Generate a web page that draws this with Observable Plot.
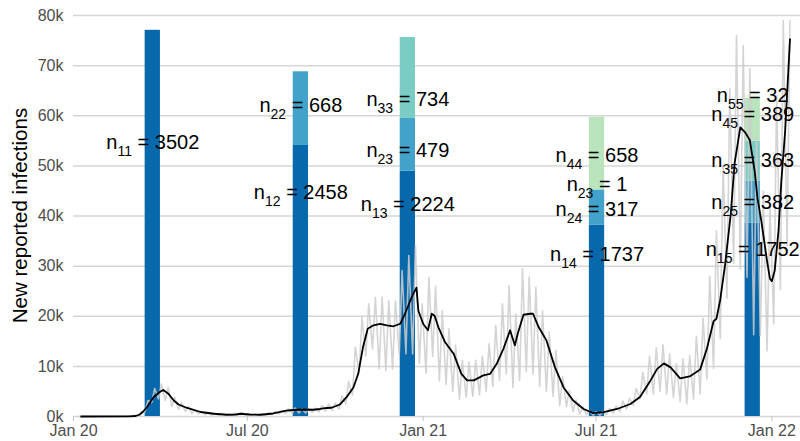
<!DOCTYPE html>
<html><head><meta charset="utf-8">
<script src="https://cdn.jsdelivr.net/npm/d3@7"></script>
<script src="https://cdn.jsdelivr.net/npm/@observablehq/plot@0.6"></script>
<style>
body{margin:0;background:#fff;}
svg{font-family:"Liberation Sans",Arial,sans-serif;}
</style></head><body><div id="chart"></div>
<script>
// ---- 7-day average (black line), values in thousands ----
const smoothDates = ["2020-01-09","2020-02-28","2020-03-06","2020-03-10","2020-03-14","2020-03-18","2020-03-25","2020-04-01","2020-04-04","2020-04-09","2020-04-15","2020-04-20","2020-04-29","2020-05-13","2020-05-27","2020-06-10","2020-06-19","2020-06-24","2020-07-03","2020-07-15","2020-07-28","2020-08-12","2020-08-26","2020-09-08","2020-09-15","2020-09-22","2020-09-27","2020-10-06","2020-10-13","2020-10-20","2020-10-25","2020-10-30","2020-11-04","2020-11-10","2020-11-17","2020-11-24","2020-12-01","2020-12-08","2020-12-13","2020-12-20","2020-12-25","2020-12-27","2021-01-01","2021-01-06","2021-01-10","2021-01-13","2021-01-17","2021-01-24","2021-02-02","2021-02-10","2021-02-16","2021-02-23","2021-03-05","2021-03-12","2021-03-19","2021-03-26","2021-04-02","2021-04-07","2021-04-10","2021-04-16","2021-04-23","2021-04-26","2021-05-02","2021-05-10","2021-05-19","2021-05-28","2021-06-07","2021-06-18","2021-06-28","2021-07-09","2021-07-23","2021-08-06","2021-08-16","2021-08-27","2021-09-03","2021-09-10","2021-09-17","2021-09-27","2021-10-07","2021-10-18","2021-10-25","2021-11-01","2021-11-04","2021-11-08","2021-11-13","2021-11-19","2021-11-23","2021-11-29","2021-12-04","2021-12-09","2021-12-14","2021-12-17","2021-12-21","2021-12-24","2021-12-27","2021-12-30","2022-01-01","2022-01-04","2022-01-08","2022-01-11","2022-01-15","2022-01-20"];
const smoothValues = [0,0.02,0.1,0.35,1.0,1.9,3.9,5.0,5.3,4.6,3.2,2.4,1.7,0.9,0.55,0.35,0.4,0.55,0.4,0.35,0.6,1.2,1.4,1.35,1.5,1.7,1.75,2.4,3.9,5.8,8.5,13.8,17.5,18.2,18.5,18.2,18.0,18.5,20.5,23.8,25.7,21.1,18.5,17.2,20.5,20.1,17.8,14.8,12.5,8.5,7.2,7.2,8.2,8.5,10.5,13.5,17.2,14.2,16.5,20.3,20.5,20.5,17.8,15.2,9.8,5.8,3.2,1.5,0.66,0.86,1.5,2.5,3.9,7.2,9.5,10.6,9.8,7.6,8.0,9.4,13.5,19.0,19.5,23.3,30.2,40.4,50.5,57.7,56.7,55.1,49.0,43.5,39.0,35.0,31.0,27.5,27.0,29.1,37.1,47.1,57.1,75.3];

// ---- daily reported cases (grey line): weekly Monday low and Thursday high, thousands ----
const weekFirstMonday = "2020-01-06";
const weeklyLow = [0,0,0,0,0,0,0,0.0,0.05,0.3,1.0,2.8,3.5,3.2,2.0,1.4,1.0,0.6,0.5,0.35,0.3,0.2,0.2,0.25,0.4,0.25,0.2,0.2,0.3,0.45,0.5,0.6,0.6,0.7,0.7,0.8,0.9,1.1,1.2,1.5,2.5,4.3,8.7,12.1,13.5,9.5,9.2,9.5,12.3,12.5,12.5,10.6,8.6,12.0,7.1,6.4,5.0,3.4,3.9,4.0,4.3,5.0,6.0,7.2,8.5,5.8,7.2,9.0,8.5,6.0,5.0,4.0,2.2,2.0,1.0,0.5,0.35,0.25,0.25,0.4,0.6,1.0,1.5,2.2,3.5,4.5,4.5,5.0,4.5,3.8,3.0,2.5,3.5,4.5,7.5,9.6,15.5,23.6,30.6,29.4,27.8,16.3,16.1,13.1,18.5,25.3,34.1];
const weeklyHigh = [0,0,0,0,0,0,0,0.03,0.2,0.9,3.2,5.6,6.5,5.8,3.8,2.8,2.0,1.3,1.0,0.8,0.7,0.55,0.5,0.7,0.75,0.55,0.45,0.55,0.75,1.0,1.2,1.5,1.7,1.6,1.6,1.7,2.2,2.5,2.7,4.1,7.0,13.8,19.8,22.5,23.8,23.8,23.1,23.1,29.1,32.1,34.1,22.5,27.8,26.0,21.1,17.5,14.2,11.2,10.8,11.2,12.0,14.5,18.2,22.5,26.1,20.4,29.5,27.8,25.8,21.1,16.8,13.2,8.0,5.2,3.3,1.9,1.1,0.95,1.0,1.6,2.1,3.1,3.6,5.6,8.8,12.0,13.7,14.3,12.5,10.5,11.5,12.2,16.0,19.6,28.0,37.0,50.0,65.4,76.0,74.0,69.4,56.0,45.0,42.0,64.0,79.0,79.0];

// ---- sample bars ----
const barDates = ["2020-03-24","2020-08-26","2020-12-16","2021-07-02","2021-12-12"];
const segBar   = [0,1,1,2,2,2,3,3,3,3,4,4,4,4,4];
const segGroup = [1,1,2,1,2,3,1,2,3,4,1,2,3,4,5];
const segN     = [3502,2458,668,2224,479,734,1737,317,1,658,1752,382,363,389,32];
const segName  = ["11","12","22","13","23","33","14","24","23","44","15","25","35","45","55"];
const labelAt  = [54.7,44.7,62.0,42.3,53.0,63.3,32.3,41.3,46.3,52.1,33.3,42.6,51.0,60.2,64.0]; // thousands
const groupColors = ["#0868ac","#43a2ca","#7bccc4","#bae4bc","#f0f9e8"];
const barScale = 22; // infections per sampled unit

const xTicks = ["2020-01-01","2020-07-01","2021-01-01","2021-07-01","2022-01-01"];
const yTicks = [0,10000,20000,30000,40000,50000,60000,70000,80000];
const yTitle = "New reported infections";

// ---- build tables ----
const parse = d3.utcParse("%Y-%m-%d");
const smooth = smoothDates.map((d,i)=>({date: parse(d), value: smoothValues[i]*1000}));
const start = parse(weekFirstMonday);
const grey = [];
weeklyLow.forEach((v,i)=>{
  grey.push({date: d3.utcDay.offset(start, 7*i), value: v*1000});
  grey.push({date: d3.utcDay.offset(start, 7*i+3), value: weeklyHigh[i]*1000});
});
const cum = {};
const segs = segN.map((n,i)=>{
  const b = segBar[i];
  const c = cum[b] || 0;
  cum[b] = c + n;
  const d = parse(barDates[b]);
  return {x: d, x1: d3.utcDay.offset(d,-8), x2: d3.utcDay.offset(d,8),
          y1: c*barScale, y2: (c+n)*barScale, group: segGroup[i],
          label: "n_" + segName[i] + " = " + n, ly: labelAt[i]*1000};
});

const M = {left: 73, right: 0, top: 15, bottom: 25};
const chart = Plot.plot({
  width: 800, height: 441,
  marginLeft: M.left, marginRight: M.right, marginTop: M.top, marginBottom: M.bottom,
  style: {fontFamily: "'Liberation Sans', Arial, sans-serif", background: "white", overflow: "visible"},
  x: {type: "utc", domain: [parse("2020-01-01"), parse("2022-01-31")]},
  y: {domain: [0, 80000]},
  color: {type: "ordinal", domain: [1,2,3,4,5], range: groupColors},
  marks: [
    Plot.ruleY(yTicks, {stroke: "#d6d6d6", strokeWidth: 1.5}),
    Plot.axisY({ticks: yTicks, tickSize: 0, tickPadding: 10, tickFormat: d => d/1000 + "k", label: null, fill: "#4d4d4d", fontSize: 16}),
    Plot.axisX({ticks: xTicks.map(parse), tickSize: 5, tickPadding: 3, tickFormat: d3.utcFormat("%b %y"), label: null, stroke: "#c4c4c4", fill: "#4d4d4d", fontSize: 16}),
    Plot.rectY(segs, {x1: "x1", x2: "x2", y1: "y1", y2: "y2", fill: "group"}),
    Plot.line(grey, {x: "date", y: "value", stroke: "#cccccc", strokeOpacity: 0.85, strokeWidth: 1.6}),
    Plot.line(smooth, {x: "date", y: "value", stroke: "black", strokeWidth: 1.8}),
    Plot.text(segs, {x: "x", y: "ly", text: "label", fontSize: 20, fill: "black"})
  ]
});

const NS = "http://www.w3.org/2000/svg";
// subscripts
chart.querySelectorAll("text").forEach(t => {
  const m = t.textContent.match(/^n_(\d+) = (.+)$/);
  if (!m) return;
  t.textContent = "";
  const a = document.createElementNS(NS, "tspan"); a.textContent = "n";
  const b = document.createElementNS(NS, "tspan"); b.textContent = m[1];
  b.setAttribute("font-size", "14"); b.setAttribute("dy", "7");
  const c = document.createElementNS(NS, "tspan"); c.textContent = "\u00a0=\u00a0" + m[2];
  c.setAttribute("dy", "-7");
  t.append(a, b, c);
});
// y-axis title, centred on the panel
const title = document.createElementNS(NS, "text");
title.textContent = yTitle;
title.setAttribute("transform", `translate(20,${(M.top + 441 - M.bottom) / 2}) rotate(-90)`);
title.setAttribute("text-anchor", "middle");
title.setAttribute("dy", "0.35em");
title.setAttribute("font-size", "20.5");
title.setAttribute("fill", "black");
chart.append(title);
document.getElementById("chart").append(chart);
</script></body></html>
